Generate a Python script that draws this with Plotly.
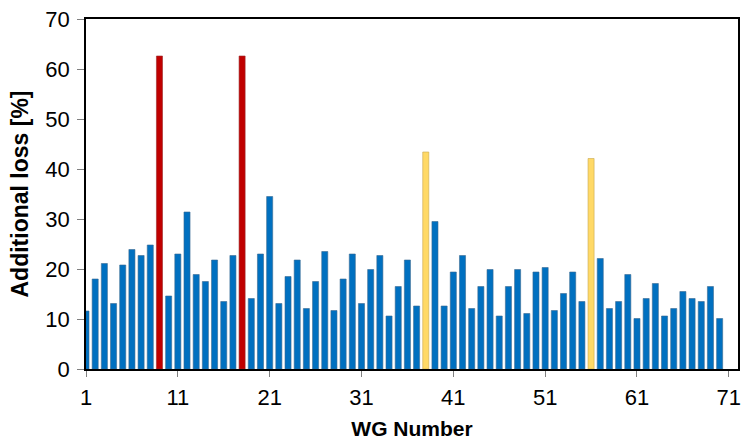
import plotly.graph_objects as go

wg = list(range(1, 71))
loss = [11.6, 18.0, 21.1, 13.1, 20.8, 23.9, 22.7, 24.8, 62.6, 14.6,
        23.0, 31.4, 18.9, 17.5, 21.8, 13.5, 22.7, 62.6, 14.1, 23.0,
        34.5, 13.1, 18.5, 21.8, 12.1, 17.5, 23.5, 11.7, 18.0, 23.0,
        13.1, 19.9, 22.7, 10.6, 16.5, 21.8, 12.6, 43.4, 29.5, 12.6,
        19.4, 22.7, 12.1, 16.5, 19.9, 10.6, 16.5, 19.9, 11.1, 19.4,
        20.3, 11.7, 15.1, 19.4, 13.5, 42.1, 22.1, 12.1, 13.5, 18.9,
        10.1, 14.1, 17.1, 10.6, 12.1, 15.5, 14.1, 13.5, 16.5, 10.1]
red_wg = [9, 18]
yellow_wg = [38, 56]
x_ticks = [1, 11, 21, 31, 41, 51, 61, 71]
y_ticks = [0, 10, 20, 30, 40, 50, 60, 70]

colors, edges = [], []
for w in wg:
    if w in red_wg:
        colors.append("#C00000"); edges.append("#9a2a2a")
    elif w in yellow_wg:
        colors.append("#FFD966"); edges.append("#c8a850")
    else:
        colors.append("#0070C0"); edges.append("#3a6a90")

fig = go.Figure(go.Bar(
    x=wg, y=loss, marker=dict(color=colors, line=dict(color=edges, width=0.6)),
    width=0.66,
))

font = "Liberation Sans, Arial, sans-serif"
fig.update_layout(
    width=742, height=440,
    margin=dict(l=86, r=4, t=19, b=71, autoexpand=False),
    paper_bgcolor="white", plot_bgcolor="white",
    showlegend=False,
    font=dict(family=font, color="black"),
    xaxis=dict(
        range=[1, 72], tickvals=x_ticks, ticktext=[str(t) for t in x_ticks],
        ticks="outside", ticklen=6, tickcolor="#808080", tickwidth=1,
        showline=True, linecolor="black", linewidth=1.5, mirror=True,
        showgrid=False, zeroline=False, automargin=False,
        tickfont=dict(size=22, family=font), ticklabelstandoff=2,
        ticklabeloverflow="allow",
        title=dict(text="<b>WG Number</b>", font=dict(size=21, family=font), standoff=25),
    ),
    yaxis=dict(
        range=[0, 70], tickvals=y_ticks,
        ticks="outside", ticklen=7, tickcolor="#808080", tickwidth=1,
        showline=True, linecolor="black", linewidth=1.5, mirror=True,
        showgrid=False, zeroline=False, automargin=False,
        tickfont=dict(size=22, family=font), ticklabelstandoff=3,
        ticklabeloverflow="allow",
        title=dict(text="<b>Additional loss [%]</b>", font=dict(size=23, family=font), standoff=10),
    ),
)

fig.write_html(
    "out.html",
    config={"displayModeBar": False},
    post_script="document.body.style.margin='0';document.body.style.overflow='hidden';",
)
